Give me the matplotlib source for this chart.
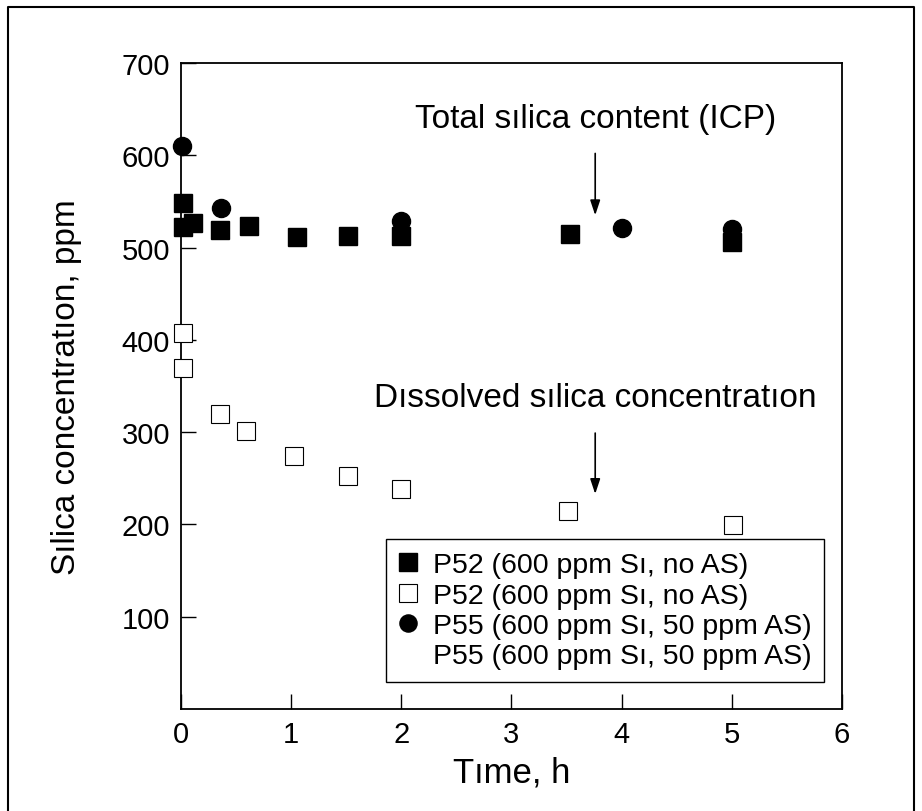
import matplotlib
matplotlib.use("Agg")
import matplotlib.pyplot as plt
from matplotlib.lines import Line2D

plt.rcParams['font.family'] = ['Liberation Sans', 'DejaVu Sans']

# P52 total silica (ICP), filled squares
p52_total_t = [0.02, 0.02, 0.11, 0.35, 0.62, 1.05, 1.52, 2.0, 3.53, 5.0]
p52_total_c = [548, 522, 527, 519, 523, 511, 513, 513, 515, 506]
# P52 dissolved silica, open squares
p52_diss_t = [0.02, 0.02, 0.35, 0.59, 1.03, 1.52, 2.0, 3.51, 5.01]
p52_diss_c = [407, 370, 320, 301, 274, 253, 238, 215, 199]
# P55 total silica (ICP), filled circles
p55_total_t = [0.01, 0.36, 2.0, 4.0, 5.0]
p55_total_c = [610, 543, 529, 521, 520]

legend_labels = ['P52 (600 ppm Sı, no AS)', 'P52 (600 ppm Sı, no AS)',
                 'P55 (600 ppm Sı, 50 ppm AS)', 'P55 (600 ppm Sı, 50 ppm AS)']

fig = plt.figure(figsize=(9.22, 8.12), dpi=100)
ax = fig.add_axes([0.1963, 0.1256, 0.7169, 0.7956])

ax.plot(p52_total_t, p52_total_c, 's', color='black', markersize=13,
        clip_on=False, label=legend_labels[0], zorder=3)
ax.plot(p52_diss_t, p52_diss_c, 's', markerfacecolor='white', markeredgecolor='black',
        markeredgewidth=0.8, markersize=13, clip_on=False, label=legend_labels[1], zorder=3)
ax.plot(p55_total_t, p55_total_c, 'o', color='black', markersize=13,
        clip_on=False, label=legend_labels[2], zorder=3)
ax.plot([], [], linestyle='none', marker='none', label=legend_labels[3])

ax.set_xlim(0, 6)
ax.set_ylim(0, 700)
ax.set_xticks(range(0, 7))
ax.set_yticks(range(100, 800, 100))
ax.tick_params(direction='in', length=11, width=1, labelsize=21, pad=8)
for s in ax.spines.values():
    s.set_linewidth(1.3)

ax.set_xlabel('Tıme, h', fontsize=25, labelpad=5)
ax.set_ylabel('Sılica concentratıon, ppm', fontsize=24, labelpad=28)

arrow = dict(arrowstyle='-|>,head_length=0.9,head_width=0.3', color='black', lw=1.2)
ax.annotate('', xy=(3.76, 532), xytext=(3.76, 605), arrowprops=arrow)
ax.text(3.76, 640, 'Total sılica content (ICP)', fontsize=24, ha='center', va='center')
ax.annotate('', xy=(3.76, 230), xytext=(3.76, 302), arrowprops=arrow)
ax.text(3.76, 337, 'Dıssolved sılica concentratıon', fontsize=24, ha='center', va='center')

leg = ax.legend(loc='lower right', bbox_to_anchor=(0.973, 0.042), fontsize=20.5,
                frameon=True, fancybox=False, edgecolor='black', framealpha=1,
                handlelength=0.7, handletextpad=0.5, labelspacing=0.15,
                borderpad=0.45, borderaxespad=0, markerscale=0.95)
leg.get_frame().set_linewidth(1.0)

# outer frame around the figure
x0, x1, y1 = 8 / 922, 914 / 922, 1 - 8 / 812
fig.add_artist(Line2D([x0, x0, x1, x1], [0, y1, y1, 0], color='black', lw=1.5,
                      transform=fig.transFigure))

fig.savefig('out.png', dpi=100)
